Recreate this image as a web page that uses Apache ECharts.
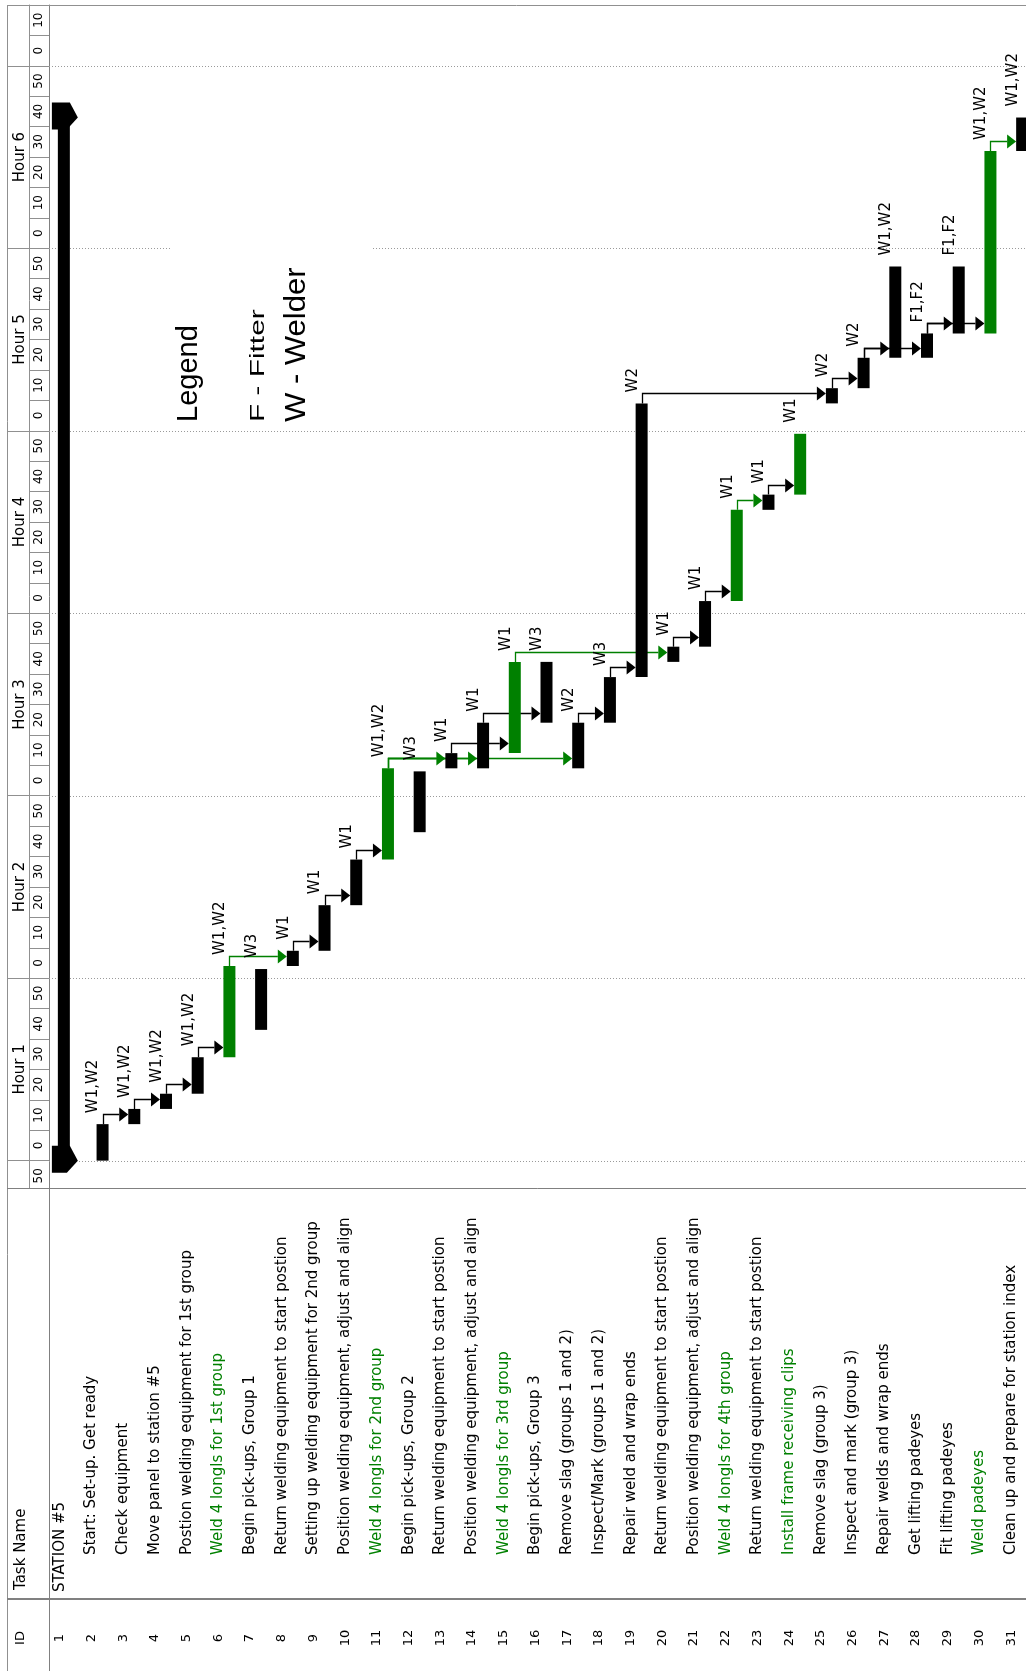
<!DOCTYPE html>
<html>
<head>
<meta charset="utf-8">
<title>Station #5 schedule</title>
<script src="https://cdn.jsdelivr.net/npm/echarts@6/dist/echarts.min.js"></script>
<style>
  html, body { margin: 0; padding: 0; background: #ffffff; }
  #chart { width: 1026px; height: 1671px; }
</style>
</head>
<body>
<div id="chart"></div>
<script>
// task table (row 1 is the summary task)
const taskNames = [
  'STATION #5',
  'Start: Set-up. Get ready',
  'Check equipment',
  'Move panel to station #5',
  'Postion welding equipment for 1st group',
  'Weld 4 longls for 1st group',
  'Begin pick-ups, Group 1',
  'Return welding equipment to start postion',
  'Setting up welding equipment for 2nd group',
  'Position welding equipment, adjust and align',
  'Weld 4 longls for 2nd group',
  'Begin pick-ups, Group 2',
  'Return welding equipment to start postion',
  'Position welding equipment, adjust and align',
  'Weld 4 longls for 3rd group',
  'Begin pick-ups, Group 3',
  'Remove slag (groups 1 and 2)',
  'Inspect/Mark (groups 1 and 2)',
  'Repair weld and wrap ends',
  'Return welding equipment to start postion',
  'Position welding equipment, adjust and align',
  'Weld 4 longls for 4th group',
  'Return welding equipment to start postion',
  'Install frame receiving clips',
  'Remove slag (group 3)',
  'Inspect and mark (group 3)',
  'Repair welds and wrap ends',
  'Get lifting padeyes',
  'Fit lifting padeyes',
  'Weld padeyes',
  'Clean up and prepare for station index'
];
const taskIds = taskNames.map((n, i) => String(i + 1));

// minutes after the start of Hour 1
const taskStart = [0, 0, 12, 17, 22, 34, 43, 64, 69, 84, 99, 108, 129, 129, 134, 144,
  129, 144, 159, 164, 169, 184, 214, 219, 249, 254, 264, 264, 272, 272, 332];
const taskEnd = [343, 12, 17, 22, 34, 64, 63, 69, 84, 99, 129, 128, 134, 144, 164, 164,
  144, 159, 249, 169, 184, 214, 219, 239, 254, 264, 294, 272, 294, 332, 343];

// resource names written after each bar
const resources = ['', 'W1,W2', 'W1,W2', 'W1,W2', 'W1,W2', 'W1,W2', 'W3', 'W1', 'W1', 'W1',
  'W1,W2', 'W3', 'W1', 'W1', 'W1', 'W3', 'W2', 'W3', 'W2', 'W1', 'W1', 'W1', 'W1', 'W1',
  'W2', 'W2', 'W1,W2', 'F1,F2', 'F1,F2', 'W1,W2', 'W1,W2'];

// welding tasks drawn in green
const weldIds = [6, 11, 15, 22, 24, 30];

// finish-to-start links (task ids)
const linkFrom = [2, 3, 4, 5, 6, 8, 9, 10, 11, 11, 11, 13, 14, 17, 18, 15, 20, 21, 22, 23, 19, 25, 26, 26, 28, 28, 30];
const linkTo = [3, 4, 5, 6, 8, 9, 10, 11, 13, 14, 17, 15, 16, 18, 19, 20, 21, 22, 23, 24, 25, 26, 27, 28, 29, 30, 31];

// timescale
const hourLabels = ['Hour 1', 'Hour 2', 'Hour 3', 'Hour 4', 'Hour 5', 'Hour 6'];
const hourMarks = [0, 60, 120, 180, 240, 300, 360];
const minuteMarks = [0, 10, 20, 30, 40, 50, 60, 70, 80, 90, 100, 110, 120, 130, 140, 150, 160, 170, 180,
  190, 200, 210, 220, 230, 240, 250, 260, 270, 280, 290, 300, 310, 320, 330, 340, 350, 360, 370];
const minuteLabels = ['0', '10', '20', '30', '40', '50'];

const GREEN = '#008000';
const FONT = 'DejaVu Sans';
const isWeld = id => weldIds.includes(id);

const taskData = taskNames.map((n, i) => [i, taskStart[i], taskEnd[i], isWeld(i + 1) ? 1 : 0]);
const linkData = linkFrom.map((f, k) => [f - 1, taskEnd[f - 1], linkTo[k] - 1, isWeld(f) ? 1 : 0]);

const chart = echarts.init(document.getElementById('chart'), null, {renderer: 'canvas'});

// bars + resource labels
function renderTask(params, api) {
  const row = api.value(0);
  const start = api.coord([row, api.value(1)]);
  const end = api.coord([row, api.value(2)]);
  const cx = start[0];
  if (row === 0) {
    // summary bar with pointed caps
    const cap = y => ({
      type: 'polygon',
      shape: {points: [[cx - 13, y - 15], [cx + 5, y - 15], [cx + 13, y], [cx + 2, y + 12], [cx - 13, y + 12]]},
      style: {fill: '#000000'}
    });
    return {
      type: 'group',
      children: [
        {type: 'rect', shape: {x: cx - 7, y: end[1], width: 12, height: start[1] - end[1]}, style: {fill: '#000000'}},
        cap(start[1]),
        cap(end[1])
      ]
    };
  }
  const children = [{
    type: 'rect',
    shape: {x: cx, y: end[1], width: 12, height: start[1] - end[1]},
    style: {fill: api.value(3) ? GREEN : '#000000'}
  }];
  const res = resources[params.dataIndex];
  if (res) {
    children.push({
      type: 'text',
      x: cx - 3,
      y: end[1] - 11,
      rotation: Math.PI / 2,
      style: {text: res, font: '15px "' + FONT + '"', fill: '#000000', align: 'left', verticalAlign: 'middle'}
    });
  }
  return {type: 'group', children: children};
}

// link: up from the finish, across, arrow into the next bar
function renderLink(params, api) {
  const from = api.coord([api.value(0), api.value(1)]);
  const to = api.coord([api.value(2), api.value(1)]);
  const color = api.value(3) ? GREEN : '#000000';
  const x0 = Math.round(from[0] + 6) + 0.5;
  const y = Math.round(from[1] - 10) + 0.5;
  const tip = to[0];
  return {
    type: 'group',
    children: [
      {type: 'polyline', shape: {points: [[x0, from[1]], [x0, y], [tip - 9, y]]},
        style: {stroke: color, lineWidth: 1.3, fill: 'none'}},
      {type: 'polygon', shape: {points: [[tip - 9, y - 7], [tip, y], [tip - 9, y + 7]]},
        style: {fill: color}}
    ]
  };
}

// dotted line at every hour
function renderHourLine(params, api) {
  const y = Math.round(api.coord([0, api.value(1)])[1]) + 0.5;
  const cs = params.coordSys;
  return {
    type: 'line',
    shape: {x1: cs.x, y1: y, x2: cs.x + cs.width, y2: y},
    style: {stroke: '#9a9a9a', lineWidth: 1, lineDash: [1, 2]}
  };
}

// table cells under the chart: task name and id for each row
function renderRowText(params, api) {
  const row = api.value(0);
  const cx = api.coord([row, 0])[0];
  const bottom = params.coordSys.y + params.coordSys.height;
  return {
    type: 'group',
    children: [
      {type: 'text', x: cx - 5, y: bottom + (row === 0 ? 404 : 367), rotation: Math.PI / 2,
        style: {text: taskNames[row], font: '15px "' + FONT + '"', fill: isWeld(row + 1) ? GREEN : '#000000',
          align: 'left', verticalAlign: 'middle'}},
      {type: 'text', x: cx - 5, y: bottom + 450, rotation: Math.PI / 2,
        style: {text: taskIds[row], font: '13px "' + FONT + '"', fill: '#000000',
          align: 'center', verticalAlign: 'middle'}}
    ]
  };
}

const option = {
  animation: false,
  backgroundColor: '#ffffff',
  textStyle: {fontFamily: FONT},
  grid: {left: 49, top: 5, width: 983, height: 1183, outerBoundsMode: 'none', containLabel: false},
  xAxis: [
    {
      // task name column separators
      type: 'category',
      position: 'bottom',
      boundaryGap: true,
      data: taskNames,
      axisLine: {onZero: false, lineStyle: {color: '#808080', width: 1}},
      axisTick: {interval: 0, length: 411, lineStyle: {color: '#c4c4c4'}},
      axisLabel: {show: false},
      splitLine: {show: false}
    },
    {
      // id column separators
      type: 'category',
      position: 'bottom',
      offset: 411,
      boundaryGap: true,
      data: taskIds,
      axisLine: {onZero: false, lineStyle: {color: '#808080', width: 2}},
      axisTick: {interval: 0, length: 72, lineStyle: {color: '#808080'}},
      axisLabel: {show: false},
      splitLine: {show: false}
    }
  ],
  yAxis: [
    {
      // minutes
      type: 'value',
      position: 'left',
      min: -9,
      max: 380,
      axisLine: {show: true, onZero: false, lineStyle: {color: '#808080'}},
      axisTick: {show: true, length: 20, customValues: minuteMarks, lineStyle: {color: '#909090'}},
      axisLabel: {
        customValues: [-5].concat(minuteMarks.map(v => v + 5)),
        formatter: v => minuteLabels[(((v - 5) % 60 + 60) % 60) / 10],
        rotate: 90, margin: 10, align: 'center', verticalAlign: 'middle',
        fontFamily: FONT, fontSize: 12, color: '#000000'
      },
      splitLine: {show: false}
    },
    {
      // hours
      type: 'value',
      position: 'left',
      offset: 20,
      min: -9,
      max: 380,
      axisLine: {show: true, onZero: false, lineStyle: {color: '#909090'}},
      axisTick: {show: true, length: 22, customValues: hourMarks, lineStyle: {color: '#909090'}},
      axisLabel: {
        customValues: hourMarks.slice(0, 6).map(v => v + 30),
        formatter: v => hourLabels[(v - 30) / 60],
        rotate: 90, margin: 9, align: 'center', verticalAlign: 'middle',
        fontFamily: FONT, fontSize: 15, color: '#000000'
      },
      splitLine: {show: false}
    }
  ],
  series: [
    {
      type: 'custom',
      name: 'hours',
      z: 1,
      silent: true,
      renderItem: renderHourLine,
      encode: {x: 0, y: 1},
      data: hourMarks.map(v => [0, v])
    },
    {
      type: 'custom',
      name: 'links',
      z: 2,
      renderItem: renderLink,
      encode: {x: [0, 2], y: 1},
      data: linkData
    },
    {
      type: 'custom',
      name: 'tasks',
      z: 3,
      renderItem: renderTask,
      encode: {x: 0, y: [1, 2]},
      data: taskData
    },
    {
      type: 'custom',
      name: 'table',
      z: 3,
      clip: false,
      silent: true,
      renderItem: renderRowText,
      encode: {x: 0, y: 1},
      data: taskNames.map((n, i) => [i, 0])
    }
  ],
  graphic: [
    // legend box
    {type: 'rect', z: 100, shape: {x: 170, y: 240, width: 203, height: 186}, style: {fill: '#ffffff'}},
    {type: 'text', z: 101, x: 189, y: 422, rotation: Math.PI / 2,
      style: {text: 'Legend', font: '29px "Liberation Sans"', fill: '#000000', align: 'left', verticalAlign: 'middle'}},
    {type: 'text', z: 101, x: 258, y: 422, rotation: Math.PI / 2, scaleX: 1.42,
      style: {text: 'F - Fitter', font: '21px "Liberation Sans"', fill: '#000000', align: 'left', verticalAlign: 'middle'}},
    {type: 'text', z: 101, x: 297, y: 422, rotation: Math.PI / 2, scaleX: 1.07,
      style: {text: 'W - Welder', font: '29px "Liberation Sans"', fill: '#000000', align: 'left', verticalAlign: 'middle'}},
    // frame and table header
    {type: 'line', z: 100, shape: {x1: 7.5, y1: 5, x2: 7.5, y2: 1671}, style: {stroke: '#909090', lineWidth: 1}},
    {type: 'line', z: 100, shape: {x1: 7, y1: 5.5, x2: 1026, y2: 5.5}, style: {stroke: '#909090', lineWidth: 1}},
    {type: 'line', z: 100, shape: {x1: 7, y1: 1188.5, x2: 49, y2: 1188.5}, style: {stroke: '#808080', lineWidth: 1}},
    {type: 'line', z: 100, shape: {x1: 7, y1: 1599, x2: 49, y2: 1599}, style: {stroke: '#808080', lineWidth: 2}},
    {type: 'line', z: 100, shape: {x1: 49.5, y1: 1188, x2: 49.5, y2: 1671}, style: {stroke: '#808080', lineWidth: 1}},
    {type: 'text', z: 101, x: 21, y: 1590, rotation: Math.PI / 2,
      style: {text: 'Task Name', font: '15px "' + FONT + '"', fill: '#000000', align: 'left', verticalAlign: 'middle'}},
    {type: 'text', z: 101, x: 21, y: 1638, rotation: Math.PI / 2,
      style: {text: 'ID', font: '13px "' + FONT + '"', fill: '#000000', align: 'center', verticalAlign: 'middle'}}
  ]
};

chart.setOption(option);
</script>
</body>
</html>
